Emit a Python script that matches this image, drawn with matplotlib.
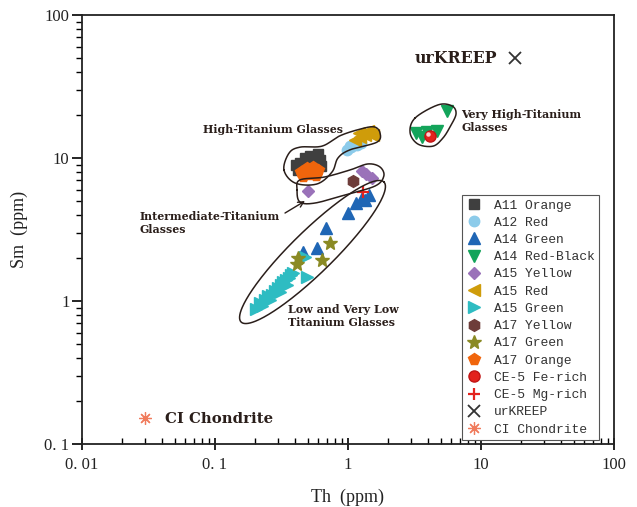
import numpy as np
import matplotlib.pyplot as plt
from matplotlib.ticker import FixedLocator, FixedFormatter, NullFormatter
from matplotlib.transforms import offset_copy

# values: Th (ppm), Sm (ppm)
a11_orange_th = [0.42, 0.435, 0.475, 0.518, 0.57, 0.616, 0.627, 0.535, 0.48, 0.405, 0.59]
a11_orange_sm = [8.24, 9.23, 10.0, 10.4, 10.2, 9.7, 8.8, 9.4, 8.8, 8.94, 10.6]
a12_red_th = [0.983, 1.06, 1.17, 1.25, 1.03]
a12_red_sm = [11.4, 11.9, 12.3, 12.7, 12.1]
a14_green_th = [0.683, 1.0, 1.15, 1.27, 1.44, 0.585, 0.46, 1.34]
a14_green_sm = [3.24, 4.12, 4.84, 5.25, 5.51, 2.35, 2.20, 5.1]
a14_redblack_th = [3.25, 3.93, 4.67, 5.55, 3.6]
a14_redblack_sm = [15.0, 15.2, 15.4, 21.3, 14.0]
a15_yellow_th = [0.50, 1.27, 1.36, 1.51]
a15_yellow_sm = [5.9, 8.1, 7.7, 7.3]
a15_red_th = [1.13, 1.23, 1.34, 1.46, 1.2, 1.41, 1.53]
a15_red_sm = [13.4, 14.0, 14.5, 14.7, 15.0, 15.4, 14.5]
a15_green_th = [0.203, 0.218, 0.238, 0.25, 0.268, 0.283, 0.298, 0.313, 0.325, 0.342,
                0.36, 0.373, 0.386, 0.349, 0.308, 0.259, 0.225, 0.492, 0.475]
a15_green_sm = [0.879, 0.968, 1.02, 1.08, 1.10, 1.17, 1.23, 1.29, 1.36, 1.40,
                1.45, 1.52, 1.57, 1.29, 1.16, 1.02, 0.923, 1.47, 2.03]
a17_yellow_th = [1.09]
a17_yellow_sm = [6.9]
a17_green_th = [0.732, 0.638, 0.42, 0.414]
a17_green_sm = [2.55, 1.94, 2.0, 1.82]
a17_orange_th = [0.445, 0.49, 0.545, 0.59, 0.518, 0.46, 0.575]
a17_orange_sm = [7.98, 8.5, 8.65, 8.24, 7.7, 7.48, 7.6]
ce5_fe_th = [4.14]
ce5_fe_sm = [14.3]
ce5_mg_th = [1.30]
ce5_mg_sm = [5.78]
urkreep_th = [18.0]
urkreep_sm = [50.0]
ci_th = [0.030]
ci_sm = [0.152]

# hand drawn outlines round the glass groups (Th, Sm)
high_ti_th = [0.33, 0.36, 0.435, 0.638, 0.871, 1.23, 1.57, 1.74, 1.65, 1.035, 0.841, 0.759, 0.585, 0.40]
high_ti_sm = [8.24, 10.8, 11.9, 12.1, 14.3, 15.9, 16.5, 15.0, 12.9, 11.4, 10.0, 7.98, 6.58, 6.68]
inter_ti_th = [0.414, 0.435, 0.667, 1.035, 1.41, 1.74, 1.86, 1.60, 0.949, 0.565, 0.435]
inter_ti_sm = [5.97, 7.02, 7.36, 8.24, 9.08, 8.65, 7.48, 6.37, 5.51, 4.84, 4.92]
vhigh_ti_th = [3.19, 4.75, 6.05, 6.49, 5.85, 5.18, 4.36, 3.36, 2.93]
vhigh_ti_sm = [19.0, 23.5, 23.1, 20.3, 16.5, 13.8, 12.1, 12.5, 15.0]

xtick_vals = [0.01, 0.1, 1, 10, 100]
xtick_text = ['0. 01', '0. 1', '1', '10', '100']
ytick_vals = [0.1, 1, 10, 100]
ytick_text = ['0. 1', '1', '10', '100']

SERIF = 'Liberation Serif'
BOLD = 'DejaVu Serif'
MONO = 'Liberation Mono'
INK = '#2a1e1a'


def smooth_loop(th, sm, n=25):
    # closed catmull-rom curve through the points, done in log space
    pts = np.column_stack([np.log10(th), np.log10(sm)])
    k = len(pts)
    t = np.linspace(0, 1, n, endpoint=False)[:, None]
    segs = []
    for i in range(k):
        p0, p1, p2, p3 = pts[i - 1], pts[i], pts[(i + 1) % k], pts[(i + 2) % k]
        segs.append(0.5 * (2 * p1 + (p2 - p0) * t + (2 * p0 - 5 * p1 + 4 * p2 - p3) * t ** 2
                           + (3 * p1 - p0 - 3 * p2 + p3) * t ** 3))
    out = np.vstack(segs + [segs[0][:1]])
    return 10 ** out[:, 0], 10 ** out[:, 1]


def log_ellipse(fig, ax, th0, sm0, a_px, b_px, angle):
    pos = ax.get_position()
    w, h = fig.get_size_inches() * fig.dpi
    dec_x = pos.width * w / 4
    dec_y = pos.height * h / 3
    t = np.linspace(0, 2 * np.pi, 300)
    r = np.deg2rad(angle)
    dx = a_px * np.cos(t) * np.cos(r) - b_px * np.sin(t) * np.sin(r)
    dy = a_px * np.cos(t) * np.sin(r) + b_px * np.sin(t) * np.cos(r)
    return th0 * 10 ** (dx / dec_x), sm0 * 10 ** (dy / dec_y)


fig = plt.figure(figsize=(6.37, 5.07), dpi=100)
ax = fig.add_axes([0.1287, 0.1243, 0.8352, 0.8462])
ax.set_xscale('log')
ax.set_yscale('log')
ax.set_xlim(0.01, 100)
ax.set_ylim(0.1, 100)

series = [
    (a11_orange_th, a11_orange_sm, 'A11 Orange', dict(marker='s', color='#3f3f3f', ms=7)),
    (a12_red_th, a12_red_sm, 'A12 Red', dict(marker='o', color='#8ccbea', ms=7.5)),
    (a14_green_th, a14_green_sm, 'A14 Green', dict(marker='^', color='#1f66b5', ms=8.5)),
    (a14_redblack_th, a14_redblack_sm, 'A14 Red-Black', dict(marker='v', color='#13a45a', ms=8.5)),
    (a15_yellow_th, a15_yellow_sm, 'A15 Yellow', dict(marker='D', color='#9a72b9', ms=6.5)),
    (a15_red_th, a15_red_sm, 'A15 Red', dict(marker='<', color='#cf9c0a', ms=8.5)),
    (a15_green_th, a15_green_sm, 'A15 Green', dict(marker='>', color='#2ebcc2', ms=8.5)),
    (a17_yellow_th, a17_yellow_sm, 'A17 Yellow', dict(marker='h', color='#6e3d3a', ms=8.5)),
    (a17_green_th, a17_green_sm, 'A17 Green', dict(marker='*', color='#8a8a24', ms=10)),
    (a17_orange_th, a17_orange_sm, 'A17 Orange', dict(marker='p', color='#f0650c', ms=8.5)),
    (ce5_fe_th, ce5_fe_sm, 'CE-5 Fe-rich', dict(marker='o', color='#e3221d', ms=8,
                                                 markeredgecolor='#c01515')),
    (ce5_mg_th, ce5_mg_sm, 'CE-5 Mg-rich', dict(marker='+', color='#e3221d', ms=9, mew=1.6)),
    (urkreep_th, urkreep_sm, 'urKREEP', dict(marker='x', color='#333333', ms=9, mew=1.3)),
    (ci_th, ci_sm, 'CI Chondrite', dict(marker=(8, 2, 0), color='#f07b5c', ms=9, mew=0.9)),
]
for th, sm, name, st in series:
    ax.plot(th, sm, linestyle='none', label=name, zorder=2, **st)

# little shine on the CE-5 Fe-rich sphere
shine = offset_copy(ax.transData, fig=fig, x=-1.5, y=1.5, units='points')
ax.plot(ce5_fe_th, ce5_fe_sm, linestyle='none', marker='o', ms=2.2, color='#ffd0d0',
        transform=shine, zorder=2.5)

# outlines
for th, sm in [(high_ti_th, high_ti_sm), (inter_ti_th, inter_ti_sm), (vhigh_ti_th, vhigh_ti_sm)]:
    lx, ly = smooth_loop(th, sm)
    ax.plot(lx, ly, color=INK, lw=1.1, zorder=3)
ex, ey = log_ellipse(fig, ax, 0.541, 2.20, 100, 21, 44.4)
ax.plot(ex, ey, color=INK, lw=1.1, zorder=3)

# labels on the plot
lab = dict(family=BOLD, fontweight='bold', color=INK, fontsize=7.9, zorder=4)
ax.text(0.0813, 15.7, 'High-Titanium Glasses', ha='left', va='center', **lab)
ax.text(7.08, 18.1, 'Very High-Titanium\nGlasses', ha='left', va='center', linespacing=1.15, **lab)
ax.text(0.0273, 3.51, 'Intermediate-Titanium\nGlasses', ha='left', va='center', linespacing=1.15, **lab)
ax.text(0.354, 0.785, 'Low and Very Low\nTitanium Glasses', ha='left', va='center', linespacing=1.15, **lab)
ax.text(13.2, 50, 'urKREEP', ha='right', va='center', family=BOLD, fontweight='bold',
        color=INK, fontsize=11.3)
ax.text(0.042, 0.149, 'CI Chondrite', ha='left', va='center', family=BOLD, fontweight='bold',
        color=INK, fontsize=10.7)
ax.annotate('', xy=(0.475, 5.0), xytext=(0.336, 4.12),
            arrowprops=dict(arrowstyle='->', color=INK, lw=1.0, shrinkA=0, shrinkB=0))

# axes styling
for sp in ax.spines.values():
    sp.set_linewidth(1.3)
    sp.set_color('#222222')
ax.xaxis.set_major_locator(FixedLocator(xtick_vals))
ax.xaxis.set_major_formatter(FixedFormatter(xtick_text))
ax.yaxis.set_major_locator(FixedLocator(ytick_vals))
ax.yaxis.set_major_formatter(FixedFormatter(ytick_text))
ax.xaxis.set_minor_formatter(NullFormatter())
ax.yaxis.set_minor_formatter(NullFormatter())
ax.tick_params(axis='x', which='major', direction='inout', length=9, width=1.2, pad=5)
ax.tick_params(axis='x', which='minor', direction='in', length=4, width=1.0)
ax.tick_params(axis='y', which='major', direction='out', length=7, width=1.2, pad=2)
ax.tick_params(axis='y', which='minor', direction='out', length=4, width=1.0)
for t in ax.get_xticklabels() + ax.get_yticklabels():
    t.set_family(SERIF)
    t.set_fontsize(12)
    t.set_color('#222222')

ax.set_xlabel('Th  (ppm)', family=SERIF, fontsize=13, color='#222222', labelpad=11)
ax.set_ylabel('Sm  (ppm)', family=SERIF, fontsize=13, color='#222222', labelpad=12)

leg = ax.legend(loc='lower right', bbox_to_anchor=(0.972, 0.009), borderaxespad=0,
                prop=dict(family=MONO, size=9.4), frameon=True, fancybox=False,
                edgecolor='#555555', framealpha=1, labelspacing=0.39, handletextpad=0.9,
                handlelength=1.2, borderpad=0.35, numpoints=1)
leg.get_frame().set_linewidth(0.8)
for t in leg.get_texts():
    t.set_color('#333333')

fig.savefig('out.png', dpi=100)
